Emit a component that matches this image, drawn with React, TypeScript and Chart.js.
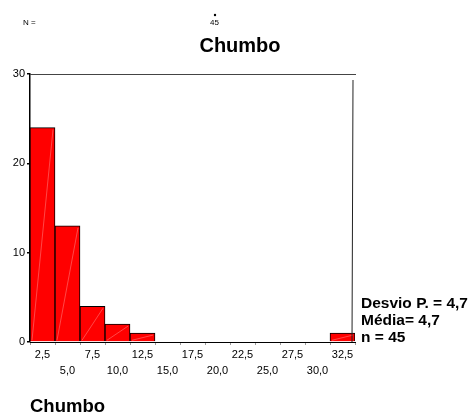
import React, { useEffect, useRef } from "react";
import { Chart, registerables } from "chart.js";
Chart.register(...registerables);

const binLabels = ["2,5", "5,0", "7,5", "10,0", "12,5", "15,0", "17,5", "20,0", "22,5", "25,0", "27,5", "30,0", "32,5"];
const frequencies = [24, 13, 4, 2, 1, 0, 0, 0, 0, 0, 0, 0, 1];
const yTickValues = [0, 10, 20, 30];
const statsLines = ["Desvio P. = 4,7", "Média= 4,7", "n = 45"];
const titleText = "Chumbo";
const axisTitle = "Chumbo";
const nLabel = "N =";
const nValue = "45";

const FONT = "'Liberation Sans', Arial, sans-serif";

const decorPlugin = {
  id: "decor",
  afterDatasetsDraw(chart: any) {
    const ctx = chart.ctx;
    const meta = chart.getDatasetMeta(0);
    ctx.save();
    ctx.strokeStyle = "rgba(255,200,200,0.6)";
    ctx.lineWidth = 0.6;
    meta.data.forEach((bar: any, i: number) => {
      if (!frequencies[i]) return;
      const half = bar.width / 2;
      ctx.beginPath();
      ctx.moveTo(bar.x - half + 2, bar.base - 1);
      ctx.lineTo(bar.x + half - 2, bar.y + 2);
      ctx.stroke();
    });
    ctx.restore();
  },
  afterDraw(chart: any) {
    const ctx = chart.ctx;
    const a = chart.chartArea;
    ctx.save();
    ctx.strokeStyle = "#444";
    ctx.lineWidth = 1;
    ctx.beginPath();
    ctx.moveTo(a.left, a.top + 0.5);
    ctx.lineTo(a.right + 1, a.top + 0.5);
    ctx.stroke();
    ctx.strokeStyle = "#222";
    ctx.beginPath();
    ctx.moveTo(a.right - 2, a.top + 6);
    ctx.lineTo(a.right - 3, a.bottom);
    ctx.stroke();

    ctx.fillStyle = "#000";
    ctx.textBaseline = "alphabetic";
    ctx.font = `8px ${FONT}`;
    ctx.textAlign = "left";
    ctx.fillText(nLabel, 23, 25);
    ctx.fillText(nValue, 210, 25);
    ctx.beginPath();
    ctx.arc(215, 15, 1.2, 0, Math.PI * 2);
    ctx.fill();
    ctx.font = `bold 20px ${FONT}`;
    ctx.textAlign = "center";
    ctx.fillText(titleText, 240, 52);
    ctx.font = `bold 18.5px ${FONT}`;
    ctx.textAlign = "left";
    ctx.fillText(axisTitle, 30, 412);
    ctx.font = `bold 15.5px ${FONT}`;
    statsLines.forEach((s, i) => ctx.fillText(s, 361, 308 + i * 17));
    ctx.restore();
  },
};

export default function App() {
  const ref = useRef<HTMLCanvasElement>(null);
  useEffect(() => {
    if (!ref.current) return;
    const chart = new Chart(ref.current, {
      type: "bar",
      data: {
        labels: binLabels,
        datasets: [
          {
            data: frequencies,
            backgroundColor: "#ff0000",
            borderColor: "#000",
            borderWidth: 1,
            barPercentage: 1,
            categoryPercentage: 1,
          },
        ],
      },
      options: {
        animation: false,
        responsive: false,
        maintainAspectRatio: false,
        layout: { padding: { top: 74, right: 121, bottom: 38, left: 0 } },
        plugins: { legend: { display: false }, tooltip: { enabled: false }, title: { display: false } },
        scales: {
          x: {
            offset: true,
            afterFit: (s: any) => { s.height = 35; },
            border: { color: "#000", width: 1 },
            grid: { drawOnChartArea: false, drawTicks: true, tickLength: 3, color: "#999" },
            ticks: {
              autoSkip: false,
              maxRotation: 0,
              minRotation: 0,
              padding: 2,
              color: "#000",
              font: { family: FONT, size: 11, lineHeight: 1.45 },
              callback: (_v: any, i: number) => (i % 2 === 0 ? [binLabels[i], ""] : ["", binLabels[i]]),
            },
          },
          y: {
            min: 0,
            max: 30,
            afterFit: (s: any) => { s.width = 30; },
            afterBuildTicks: (s: any) => { s.ticks = yTickValues.map((v) => ({ value: v })); },
            border: { color: "#000", width: 1.5 },
            grid: { drawOnChartArea: false, drawTicks: true, tickLength: 3, color: "#000", lineWidth: 1.5 },
            ticks: {
              padding: 2,
              color: "#000",
              font: { family: FONT, size: 11 },
            },
          },
        },
      },
      plugins: [decorPlugin],
    });
    return () => chart.destroy();
  }, []);
  return (
    <div style={{ position: "absolute", left: 0, top: 0, width: 476, height: 415, background: "#fff" }}>
      <canvas ref={ref} width={476} height={415} style={{ width: 476, height: 415, display: "block" }} />
    </div>
  );
}
